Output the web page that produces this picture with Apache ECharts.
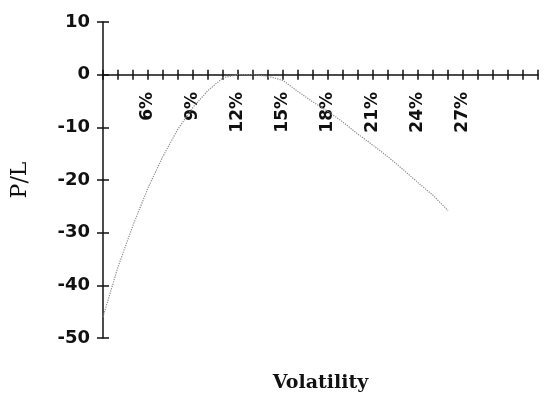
<!DOCTYPE html>
<html>
<head>
<meta charset="utf-8">
<script src="https://cdn.jsdelivr.net/npm/echarts@6/dist/echarts.min.js"></script>
<style>
  html, body { margin: 0; padding: 0; background: #fff; }
  #main { width: 548px; height: 400px; }
</style>
</head>
<body>
<div id="main"></div>
<script>
// volatility (%) and P/L
var vols = [3, 4, 5, 6, 7, 8, 9, 10, 11, 12, 13, 14, 15, 16, 17, 18, 19, 20, 21, 22, 23, 24, 25, 26];
var pl = [-46, -36.5, -28.6, -21.5, -15.5, -10.3, -6.2, -3, -0.6, 0, 0, -0.3, -1.1, -3.2, -5.2, -7.0, -9.0, -11.3, -13.4, -15.6, -18.0, -20.5, -22.9, -25.8];
// tick labels shown on the volatility axis
var xLabelVals = [6, 9, 12, 15, 18, 21, 24, 27];
var yTicks = [10, 0, -10, -20, -30, -40, -50];

var points = [];
for (var i = 0; i < vols.length; i++) {
  points.push([vols[i], pl[i]]);
}

var chart = echarts.init(document.getElementById('main'));

var labelFont = 'DejaVu Sans';
var ink = '#111';
var plotBox = { left: 103, right: 10, top: 22, bottom: 62, containLabel: false, outerBoundsMode: 'none' };
// box whose bottom edge sits on the P/L = 0 line, only used to hang the % labels there
var zeroBox = { left: 103, right: 10, top: 22, bottom: 324, containLabel: false, outerBoundsMode: 'none' };

var hidden = { show: false };

chart.setOption({
  backgroundColor: '#fff',
  animation: false,
  grid: [
    Object.assign({}, plotBox),
    Object.assign({}, plotBox),   // inner half of the ticks
    Object.assign({}, zeroBox)
  ],
  xAxis: [
    {
      gridIndex: 0, type: 'value', min: 3, max: 32, interval: 1,
      name: 'Volatility', nameLocation: 'middle', nameGap: 36,
      nameTextStyle: { fontFamily: 'DejaVu Serif', fontWeight: 'bold', fontSize: 19, color: ink },
      axisLine: { onZero: true, lineStyle: { color: ink, width: 1.5 } },
      axisTick: { length: 5, lineStyle: { color: ink, width: 1.5 } },
      axisLabel: hidden,
      splitLine: hidden
    },
    {
      gridIndex: 1, type: 'value', min: 3, max: 32, interval: 1,
      axisLine: { show: false, onZero: true },
      axisTick: { inside: true, length: 5, lineStyle: { color: ink, width: 1.5 } },
      axisLabel: hidden,
      splitLine: hidden
    },
    {
      gridIndex: 2, type: 'value', min: 3, max: 32, interval: 1,
      axisLine: { show: false, onZero: false },
      axisTick: hidden,
      axisLabel: {
        rotate: 90, margin: 16,
        fontFamily: labelFont, fontWeight: 'bold', fontSize: 17, color: ink,
        formatter: function (v) {
          return xLabelVals.indexOf(v) >= 0 ? v + '%' : '';
        }
      },
      splitLine: hidden
    }
  ],
  yAxis: [
    {
      gridIndex: 0, type: 'value', min: -50, max: 10, interval: 10,
      name: 'P/L', nameLocation: 'middle', nameGap: 72, nameRotate: 90,
      nameTextStyle: { fontFamily: 'DejaVu Serif', fontSize: 22, color: ink },
      axisLine: { show: true, onZero: false, lineStyle: { color: ink, width: 1.5 } },
      axisTick: { show: true, length: 6, lineStyle: { color: ink, width: 1.5 } },
      axisLabel: {
        margin: 13, fontFamily: labelFont, fontWeight: 'bold', fontSize: 18, color: ink,
        formatter: function (v) { return yTicks.indexOf(v) >= 0 ? String(v) : ''; }
      },
      splitLine: hidden
    },
    {
      gridIndex: 1, type: 'value', min: -50, max: 10, interval: 10,
      axisLine: { show: false, onZero: false },
      axisTick: { show: true, inside: true, length: 6, lineStyle: { color: ink, width: 1.5 } },
      axisLabel: hidden,
      splitLine: hidden
    },
    {
      gridIndex: 2, type: 'value', min: 0, max: 10,
      axisLine: { show: false, onZero: false },
      axisTick: hidden,
      axisLabel: hidden,
      splitLine: hidden
    }
  ],
  series: [
    {
      type: 'line',
      xAxisIndex: 0, yAxisIndex: 0,
      data: points,
      showSymbol: false,
      lineStyle: { color: '#8a8a8a', width: 1.2, type: 'dotted' }
    }
  ]
});
</script>
</body>
</html>
